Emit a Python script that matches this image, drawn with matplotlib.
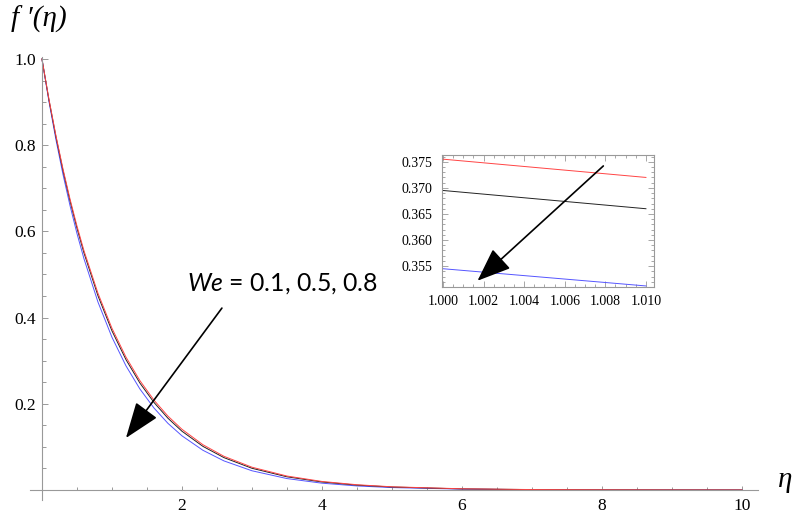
import matplotlib
matplotlib.use("Agg")
import matplotlib.pyplot as plt
from matplotlib.ticker import MultipleLocator

plt.rcParams['font.family'] = ['Liberation Serif', 'DejaVu Serif']
plt.rcParams['mathtext.fontset'] = 'custom'
plt.rcParams['mathtext.rm'] = 'Lato'
plt.rcParams['mathtext.it'] = 'Lato:italic'

# ---- data ----
eta = [0, 0.1, 0.2, 0.3, 0.4, 0.5, 0.6, 0.8, 1.0, 1.2, 1.4, 1.6, 1.8, 2.0,
       2.3, 2.6, 3.0, 3.5, 4.0, 4.5, 5.0, 6.0, 7.0, 8.0, 9.0, 10.0]
fp_we01 = [1.0, 0.9066, 0.8220, 0.7453, 0.6757, 0.6126, 0.5554, 0.4566, 0.3753,
           0.3085, 0.2536, 0.2085, 0.1714, 0.1409, 0.1050, 0.0782, 0.0529, 0.0324,
           0.0198, 0.0122, 0.0074, 0.0028, 0.0010, 0.0004, 0.0001, 0.0]
fp_we05 = [1.0, 0.9052, 0.8194, 0.7417, 0.6714, 0.6077, 0.5501, 0.4508, 0.3693,
           0.3026, 0.2480, 0.2032, 0.1665, 0.1364, 0.1012, 0.0751, 0.0504, 0.0306,
           0.0186, 0.0113, 0.0069, 0.0025, 0.0009, 0.0003, 0.0001, 0.0]
fp_we08 = [1.0, 0.9015, 0.8127, 0.7326, 0.6605, 0.5954, 0.5368, 0.4362, 0.3545,
           0.2881, 0.2342, 0.1903, 0.1546, 0.1257, 0.0921, 0.0675, 0.0446, 0.0265,
           0.0158, 0.0094, 0.0056, 0.0020, 0.0007, 0.0002, 0.0001, 0.0]

inset_eta = [1.000, 1.010]
inset_we01 = [0.3755, 0.3720]
inset_we05 = [0.3695, 0.3660]
inset_we08 = [0.3545, 0.3512]

x_ticks = [2, 4, 6, 8, 10]
y_ticks = [0.2, 0.4, 0.6, 0.8, 1.0]
inset_x_ticks = [1.000, 1.002, 1.004, 1.006, 1.008, 1.010]
inset_y_ticks = [0.355, 0.360, 0.365, 0.370, 0.375]
label_text = r"$\mathit{We}$ = 0.1, 0.5, 0.8"

c_red = '#ff4444'
c_black = '#222222'
c_blue = '#5555ff'
axis_gray = '#999999'

fig = plt.figure(figsize=(7.95, 5.17), dpi=100)
ax = fig.add_axes([0.0377, 0.0329, 0.9157, 0.8569])
ax.plot(eta, fp_we08, color=c_blue, lw=0.7)
ax.plot(eta, fp_we05, color=c_black, lw=0.7)
ax.plot(eta, fp_we01, color=c_red, lw=0.7)
ax.set_xlim(-0.171, 10.229)
ax.set_ylim(-0.0232, 1.0046)

for s in ['top', 'right']:
    ax.spines[s].set_visible(False)
ax.spines['left'].set_position(('data', 0))
ax.spines['bottom'].set_position(('data', 0))
for s in ['left', 'bottom']:
    ax.spines[s].set_color(axis_gray)
    ax.spines[s].set_linewidth(0.8)

ax.set_xticks(x_ticks, [str(v) for v in x_ticks])
ax.set_yticks(y_ticks, [f"{v:.1f}" for v in y_ticks])
ax.xaxis.set_minor_locator(MultipleLocator(0.5))
ax.yaxis.set_minor_locator(MultipleLocator(0.05))
ax.tick_params(which='both', direction='in', color=axis_gray, width=0.7, labelsize=12.5)
ax.tick_params(axis='x', which='major', length=3.2, pad=6)
ax.tick_params(axis='x', which='minor', length=2.0)
ax.tick_params(axis='y', which='major', length=4.5, pad=4.5)
ax.tick_params(axis='y', which='minor', length=2.7)

fig.text(0.014, 0.962, "f \u2032(\u03b7)", fontsize=21, style='italic',
         va='center', ha='left')
fig.text(0.988, 0.0716, "\u03b7", fontsize=21, style='italic', va='center', ha='center')

ax.annotate("", xy=(1.2, 0.1206), xytext=(2.571, 0.422),
            arrowprops=dict(arrowstyle='-|>,head_length=1.5,head_width=0.55',
                            color='black', lw=1.2, mutation_scale=15, shrinkA=0, shrinkB=0))
ax.text(2.07, 0.480, label_text, fontsize=17.8, va='center', ha='left',
        family=['Lato', 'DejaVu Sans'])

# inset
ins = fig.add_axes([0.556, 0.4449, 0.2667, 0.2553])
ins.plot(inset_eta, inset_we01, color=c_red, lw=0.7)
ins.plot(inset_eta, inset_we05, color=c_black, lw=0.7)
ins.plot(inset_eta, inset_we08, color=c_blue, lw=0.7)
ins.set_xlim(0.99995, 1.0104)
ins.set_ylim(0.351, 0.3763)
for s in ins.spines.values():
    s.set_color(axis_gray)
    s.set_linewidth(0.8)
ins.set_xticks(inset_x_ticks, [f"{v:.3f}" for v in inset_x_ticks])
ins.set_yticks(inset_y_ticks, [f"{v:.3f}" for v in inset_y_ticks])
ins.xaxis.set_minor_locator(MultipleLocator(0.0005))
ins.yaxis.set_minor_locator(MultipleLocator(0.001))
ins.tick_params(which='both', direction='in', color=axis_gray, width=0.6,
                top=True, right=True, labelsize=10)
ins.tick_params(which='major', length=4)
ins.tick_params(which='minor', length=2)
ins.tick_params(axis='y', pad=7)
ins.tick_params(axis='x', pad=5.5)
ins.annotate("", xy=(1.0017, 0.3522), xytext=(1.0079, 0.3742),
             arrowprops=dict(arrowstyle='-|>,head_length=1.4,head_width=0.55',
                             color='black', lw=1.2, mutation_scale=15, shrinkA=0, shrinkB=0))

fig.savefig("out.png", dpi=100)
